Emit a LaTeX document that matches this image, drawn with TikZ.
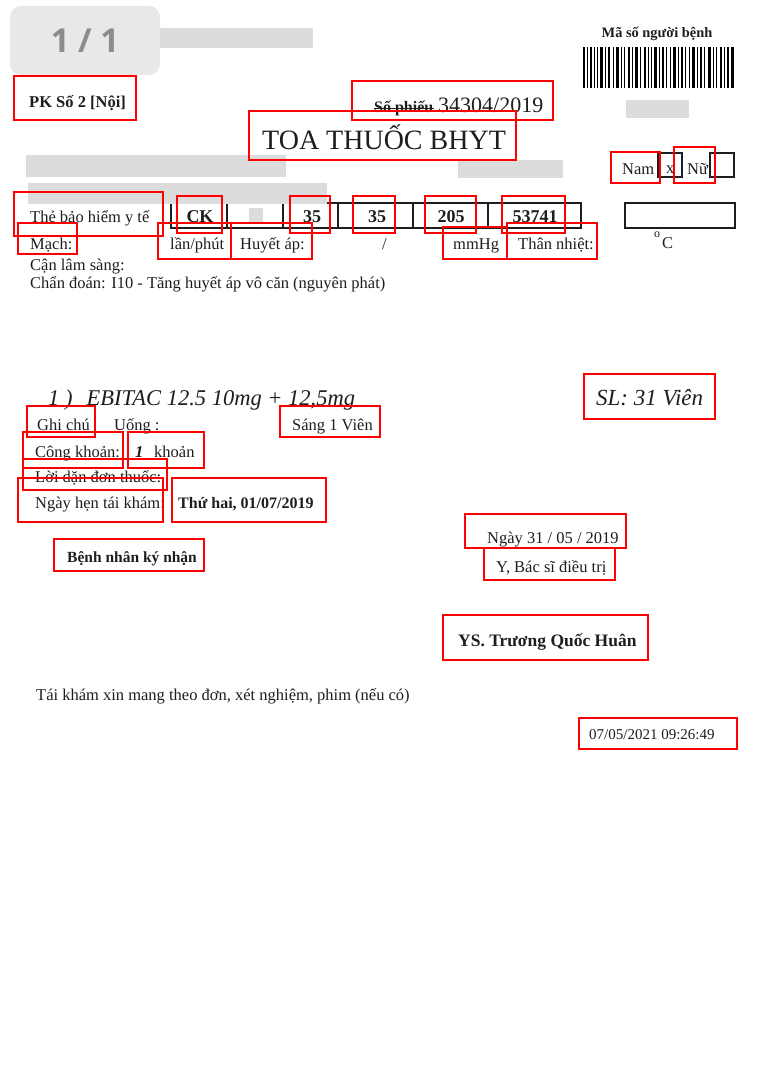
\documentclass[tikz,border=0pt]{standalone}
\usepackage{fontspec}
\setmainfont{Liberation Serif}
\newfontfamily\opensans{Open Sans}
\newcommand\myfs[1]{\fontsize{#1}{#1}\selectfont}
\definecolor{inkc}{HTML}{1E1E1E}
\definecolor{barg}{HTML}{DCDCDC}
\begin{document}
\begin{tikzpicture}[x=1pt,y=-1pt,
  redbox/.style={draw=red, line width=1.2pt},
  blkbox/.style={draw=inkc, line width=1.9pt},
  grayfill/.style={fill=barg, draw=none},
  txt/.style={inner sep=0pt, anchor=base west, text=inkc, font=\myfs{16.5}},
  bld/.style={txt, font=\myfs{16.5}\bfseries},
  cardtxt/.style={inner sep=0pt, anchor=base, text=inkc, font=\myfs{18}\bfseries}]
\useasboundingbox[fill=white] (0,0) rectangle (760,1070);

% ---- header grey page badge ----
\fill[barg] (158,28) rectangle (313,48);
\node[draw=none, fill=black!9, rounded corners=11pt, minimum width=150pt, minimum height=69pt, inner sep=0pt] (badge) at (85,40.5) {};
\node[inner sep=0pt, text=black!45, font=\opensans\bfseries\myfs{33}] (pg) at (85,41) {1 / 1};

% ---- grey blocks ----
\fill[barg] (26,155) rectangle (286,177);
\fill[barg] (458,160) rectangle (563,178);
\fill[barg] (626,100) rectangle (689,118);

% ---- barcode ----
\node[txt, font=\myfs{14.4}\bfseries, anchor=base] (ma) at (657,38) {Mã số người bệnh};
\foreach \p/\w in {0/2,4/1,7/2,11/1,14/1,17/3,22/1,25/2,30/1,33/3,38/1,41/1,45/2,49/1,52/3,57/1,61/2,65/1,68/1,71/3,76/1,79/2,83/1,87/1,90/3,95/1,98/2,102/1,106/1,109/3,114/1,117/2,121/1,125/3,130/1,133/1,137/2,141/1,144/2,148/3}
  \fill[black] ({583+\p},47) rectangle ({583+\p+\w*1.1},88);

% ---- black form boxes ----
\draw[blkbox] (171,203) rectangle (581,228);
\foreach \d in {227,283,338,413,488} \draw[blkbox] (\d,203) -- (\d,228);
\draw[blkbox] (625,203) rectangle (735,228);
\draw[blkbox] (658,153) rectangle (682,177);
\draw[blkbox] (710,153) rectangle (734,177);
\fill[barg] (28,183) rectangle (327,204);
\fill[barg] (249,208) rectangle (263,224);

% ---- texts ----
\node[bld] (pk) at (29,108) {PK Số 2 [Nội]};
\node[txt, font=\myfs{16}\bfseries] (sophieu) at (374,113) {Số phiếu};
\draw[inkc, line width=0.9pt] (374,108.5) -- (434,108.5);
\node[txt, font=\myfs{22}] (sonum) at (438,113) {34304/2019};
\node[txt, font=\myfs{28}] (title) at (262,149) {TOA THUỐC BHYT};
\node[txt] (nam) at (622,174) {Nam};
\node[txt] (xmark) at (666,173) {x};
\node[txt] (nu) at (687,174) {Nữ};

\node[txt] (the) at (30,222) {Thẻ bảo hiểm y tế};
\node[cardtxt] (ck) at (200,222) {CK};
\node[cardtxt] (n35a) at (312,222) {35};
\node[cardtxt] (n35b) at (377,222) {35};
\node[cardtxt] (n205) at (451,222) {205};
\node[cardtxt] (n537) at (535,222) {53741};

\node[txt] (mach) at (30,249) {Mạch:};
\node[txt] (lan) at (170,249) {lần/phút};
\node[txt] (huyet) at (240,249) {Huyết áp:};
\node[txt] (slash) at (382,249) {/};
\node[txt] (mmhg) at (453,249) {mmHg};
\node[txt] (than) at (518,249) {Thân nhiệt:};
\node[txt, font=\myfs{12}] (deg) at (654,237) {o};
\node[txt] (cel) at (662,248) {C};
\node[txt] (can) at (30,270) {Cận lâm sàng:};
\node[txt] (chan) at (30,288) {Chẩn đoán: I10 - Tăng huyết áp vô căn (nguyên phát)};

\node[txt, font=\myfs{22.5}\itshape] (drug) at (48,405) {1 )\hspace{14pt}EBITAC 12.5 10mg + 12,5mg};
\node[txt, font=\myfs{23}\itshape] (sl) at (596,405) {SL: 31 Viên};
\node[txt] (ghi) at (37,430) {Ghi chú};
\node[txt] (uong) at (114,430) {Uống :};
\node[txt] (sang) at (292,430) {Sáng 1 Viên};
\node[txt] (cong) at (35,457) {Cộng khoản:};
\node[txt, font=\myfs{16.5}\bfseries\itshape] (one) at (135,457) {1};
\node[txt] (khoan) at (154,457) {khoản};
\node[txt] (loi) at (35,482) {Lời dặn đơn thuốc:};
\node[txt] (hen) at (35,508) {Ngày hẹn tái khám:};
\node[txt, font=\myfs{16}\bfseries] (thu) at (178,508) {Thứ hai, 01/07/2019};

\node[txt] (ngay) at (487,543) {Ngày 31 / 05 / 2019};
\node[txt] (bs) at (496,572) {Y, Bác sĩ điều trị};
\node[txt, font=\myfs{15.5}\bfseries] (bn) at (67,562) {Bệnh nhân ký nhận};
\node[txt, font=\myfs{17.5}\bfseries] (ys) at (458,646) {YS. Trương Quốc Huân};
\node[txt] (tai) at (36,700) {Tái khám xin mang theo đơn, xét nghiệm, phim (nếu có)};
\node[txt, font=\myfs{15}] (stamp) at (589,739) {07/05/2021 09:26:49};

% ---- red annotation boxes ----
\foreach \a/\b/\c/\d in {14/76/136/120, 352/81/553/120, 249/111/516/160,
  611/152/660/183, 674/147/715/183, 14/192/163/236,
  177/196/222/233, 290/196/330/233, 353/196/395/233, 425/196/476/233, 502/196/565/233,
  18/223/77/254, 158/223/231/259, 231/223/312/259, 443/227/507/259, 507/223/597/259,
  584/374/715/419, 27/406/95/437, 280/406/380/437,
  23/432/123/468, 128/432/204/468, 23/459/167/490, 18/478/163/522, 172/478/326/522,
  465/514/626/548, 484/548/615/580, 54/539/204/571, 443/615/648/660, 579/718/737/749}
  \draw[redbox] (\a,\b) rectangle (\c,\d);
\end{tikzpicture}
\end{document}
